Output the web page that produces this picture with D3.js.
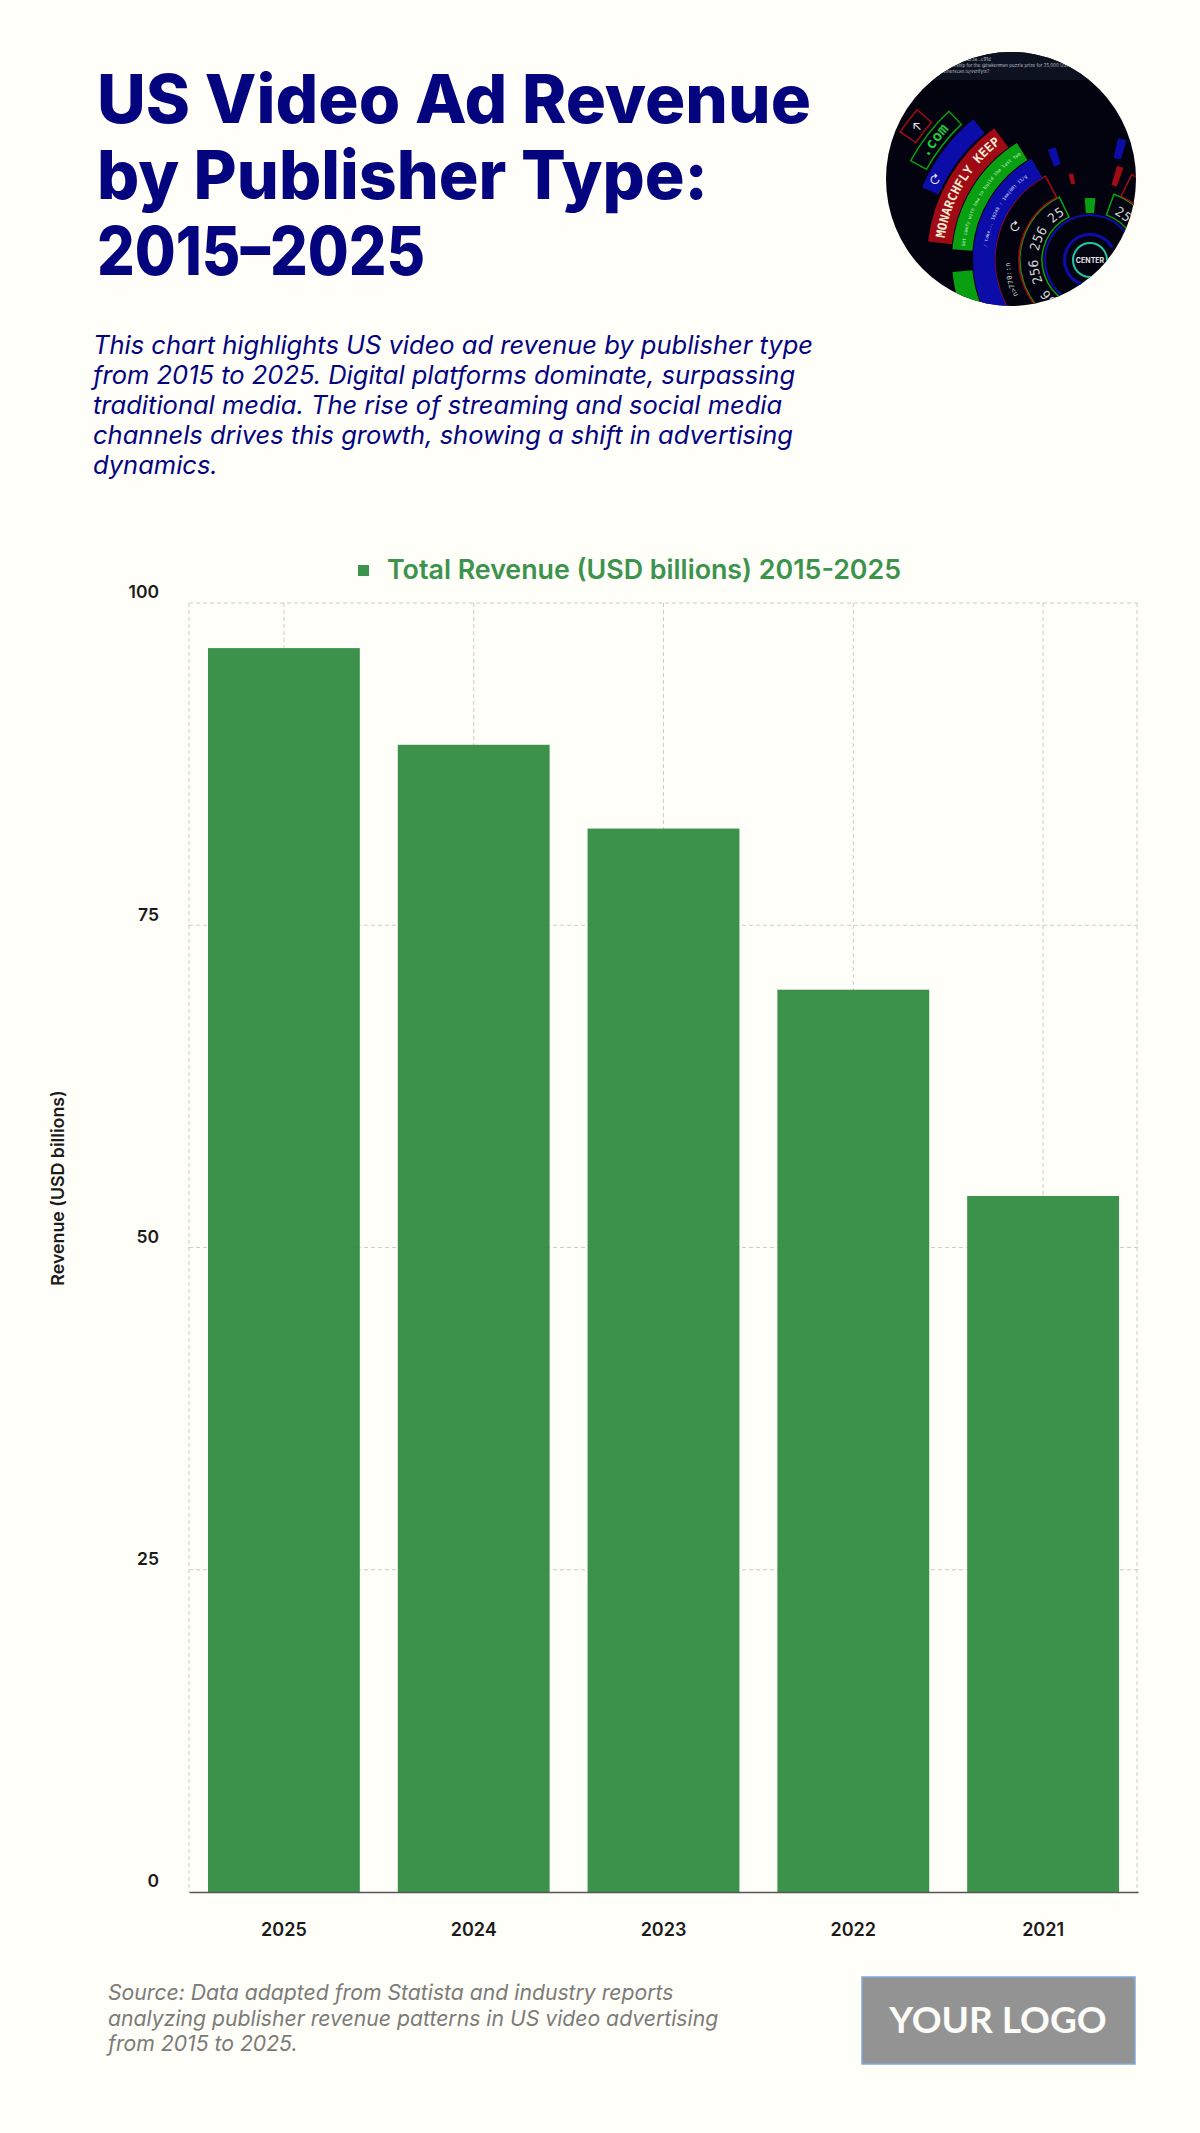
<!DOCTYPE html>
<html>
<head>
<meta charset="utf-8">
<script src="https://d3js.org/d3.v7.min.js"></script>
<style>
  html, body { margin: 0; padding: 0; background: #fffef9; }
  svg { display: block; }
  text { font-family: Inter, "Noto Sans", sans-serif; }
</style>
</head>
<body>
<svg id="chart" width="1200" height="2133"></svg>
<script>
// chart values
var years = ["2025", "2024", "2023", "2022", "2021"];
var revenue = [96.5, 89, 82.5, 70, 54];
var yTicks = [0, 25, 50, 75, 100];

var titleLines = ["US Video Ad Revenue", "by Publisher Type:", "2015–2025"];
var descLines = [
  "This chart highlights US video ad revenue by publisher type",
  "from 2015 to 2025. Digital platforms dominate, surpassing",
  "traditional media. The rise of streaming and social media",
  "channels drives this growth, showing a shift in advertising",
  "dynamics."
];
var sourceLines = [
  "Source: Data adapted from Statista and industry reports",
  "analyzing publisher revenue patterns in US video advertising",
  "from 2015 to 2025."
];
var legendLabel = "Total Revenue (USD billions) 2015-2025";
var yLabel = "Revenue (USD billions)";

var NAVY = "#04047f", GREEN = "#3c934b", BG = "#fffef9";

var svg = d3.select("#chart");
svg.append("rect").attr("width", 1200).attr("height", 2133).attr("fill", BG);

// header, the real title font is not installed so each line is fitted to its width
var titleWidths = [714, 611, 328];
svg.append("g").selectAll("text").data(titleLines).join("text")
  .attr("x", 97).attr("y", function (d, i) { return 123 + i * 76; })
  .attr("textLength", function (d, i) { return titleWidths[i]; })
  .attr("lengthAdjust", "spacingAndGlyphs")
  .attr("fill", NAVY)
  .style("font-weight", 800).style("font-size", "67px")
  .text(function (d) { return d; });

svg.append("g").selectAll("text").data(descLines).join("text")
  .attr("x", 93).attr("y", function (d, i) { return 354 + i * 30; })
  .attr("fill", NAVY)
  .style("font-style", "italic").style("font-size", "25.5px")
  .text(function (d) { return d; });

// plot
var margin = { left: 189, right: 62, top: 603, bottom: 241 };
var x = d3.scaleBand().domain(years).range([margin.left, 1200 - margin.right]).paddingInner(0.2).paddingOuter(0.1);
var y = d3.scaleLinear().domain([0, 100]).range([2133 - margin.bottom, margin.top]);

// grid goes under the bars, the bars are just a bit see-through
var grid = svg.append("g").attr("fill", "none").attr("stroke", "#b9b9b0")
  .attr("stroke-width", 1).attr("stroke-dasharray", "4 3").attr("opacity", 0.7);
grid.selectAll("line.h").data(yTicks.slice(1)).join("line").attr("class", "h")
  .attr("x1", margin.left).attr("x2", 1200 - margin.right)
  .attr("y1", function (d) { return y(d); }).attr("y2", function (d) { return y(d); });
var gridX = [margin.left].concat(years.map(function (d) { return x(d) + x.bandwidth() / 2; }), [1200 - margin.right - 1]);
grid.selectAll("line.v").data(gridX).join("line").attr("class", "v")
  .attr("x1", function (d) { return d; }).attr("x2", function (d) { return d; })
  .attr("y1", margin.top).attr("y2", y(0));

svg.append("g").selectAll("rect").data(revenue).join("rect")
  .attr("x", function (d, i) { return x(years[i]); })
  .attr("y", function (d) { return y(d); })
  .attr("width", x.bandwidth())
  .attr("height", function (d) { return y(0) - y(d); })
  .attr("fill", "#348e43").attr("fill-opacity", 0.96);

// axes
var yAxis = svg.append("g").attr("transform", "translate(" + margin.left + ",0)")
  .call(d3.axisLeft(y).tickValues(yTicks).tickSize(0).tickPadding(30));
yAxis.select(".domain").remove();
yAxis.selectAll("text").attr("dy", "-0.3em").attr("fill", "#1b1b1b")
  .style("font-size", "17.5px").style("font-weight", 600);

var xAxis = svg.append("g").attr("transform", "translate(0," + y(0) + ")")
  .call(d3.axisBottom(x).tickSize(0).tickPadding(31));
xAxis.select(".domain").attr("stroke", "#555").attr("stroke-width", 1.5);
xAxis.selectAll("text").attr("fill", "#1b1b1b")
  .style("font-size", "18px").style("font-weight", 600);

svg.append("text")
  .attr("transform", "translate(64,1188) rotate(-90)")
  .attr("text-anchor", "middle").attr("fill", "#1b1b1b")
  .style("font-size", "17.8px").style("font-weight", 600)
  .text(yLabel);

// legend
svg.append("rect").attr("x", 358).attr("y", 565).attr("width", 11).attr("height", 11).attr("fill", GREEN);
svg.append("text").attr("x", 387).attr("y", 579).attr("fill", GREEN)
  .style("font-size", "26.8px").style("font-weight", 600).text(legendLabel);

// footer
svg.append("g").selectAll("text").data(sourceLines).join("text")
  .attr("x", 108).attr("y", function (d, i) { return 2000 + i * 25.5; })
  .attr("fill", "#7b7b78")
  .style("font-style", "italic").style("font-size", "21.2px")
  .text(function (d) { return d; });

svg.append("rect").attr("x", 862).attr("y", 1977).attr("width", 273).attr("height", 87)
  .attr("fill", "#939393").attr("stroke", "#7fabd8").attr("stroke-width", 1.5);
svg.append("text").attr("x", 998).attr("y", 2033).attr("text-anchor", "middle").attr("fill", "#fbfbf8")
  .style("font-family", "Lato, sans-serif").style("font-weight", 700).style("font-size", "37px")
  .text("YOUR LOGO");

// round thumbnail, top right
var deg = Math.PI / 180;
var RED = "#a00a14", BLUE = "#0c0ca8", LIME = "#08a010", MONO = "'DejaVu Sans Mono', monospace";
var defs = svg.append("defs");
defs.append("clipPath").attr("id", "thumbClip").append("ellipse")
  .attr("cx", 1011).attr("cy", 179).attr("rx", 125).attr("ry", 127);
var thumb = svg.append("g").attr("clip-path", "url(#thumbClip)");
thumb.append("rect").attr("x", 880).attr("y", 50).attr("width", 262).attr("height", 258).attr("fill", "#03030f");
thumb.append("rect").attr("x", 880).attr("y", 50).attr("width", 262).attr("height", 30).attr("fill", "#0d1220");
thumb.selectAll("text.top").data(["contract 0x8f3a…c91d", "ownership for the @hakenman puzzle prize for 25,000 USDT", "etherscan.io/verifytx?"]).join("text")
  .attr("class", "top").attr("x", 943).attr("y", function (d, i) { return 61 + i * 6; })
  .attr("fill", "#b8bcc4").style("font-size", "4.5px").text(function (d) { return d; });

var center = thumb.append("g").attr("transform", "translate(1090,260)");
var arc = d3.arc();
function band(r0, r1, a0, a1, fill, stroke) {
  return center.append("path")
    .attr("d", arc({ innerRadius: r0, outerRadius: r1, startAngle: a0 * deg, endAngle: a1 * deg }))
    .attr("fill", fill || "none").attr("stroke", stroke || "none").attr("stroke-width", 1.5);
}
band(48, 70, -190, -26, null, LIME);
band(48, 70, 20, 60, null, LIME);
band(71, 95, -190, -28, null, RED);
band(71, 95, 26, 60, null, RED);
band(95, 117, -175, -30, BLUE);
band(118, 138, -85.5, -32, LIME);
band(118, 138, -112, -95, LIME);
band(139, 163, -83.5, -36, RED);
band(165, 183, -66.6, -39.7, BLUE);
band(187, 205, -61, -43.5, null, LIME);
band(210, 229, -56, -49, null, RED);
band(47, 62, -5, 5, LIME);
band(78, 88, -14, -11, RED);
band(78, 98, 16, 20, RED);
band(100, 118, -21, -17, BLUE);
band(105, 125, 13, 17, BLUE);
band(44, 46, -140, 70, BLUE);
band(24, 27, -160, 60, BLUE);
center.append("circle").attr("r", 17).attr("fill", "#03030f").attr("stroke", "#1fc9a0").attr("stroke-width", 2);
center.append("text").attr("text-anchor", "middle").attr("y", 3).attr("fill", "#e6e6e6")
  .style("font-size", "7px").style("font-weight", 700).text("CENTER");

// curved labels on the bands
function curved(id, r, a0, a1, label, size, fill, weight, family) {
  var p0 = d3.pointRadial(a0 * deg, r), p1 = d3.pointRadial(a1 * deg, r);
  defs.append("path").attr("id", id)
    .attr("d", "M" + p0[0] + "," + p0[1] + "A" + r + "," + r + " 0 0 1 " + p1[0] + "," + p1[1]);
  center.append("text").attr("fill", fill).attr("text-anchor", "middle")
    .style("font-family", family || MONO).style("font-size", size + "px").style("font-weight", weight || 400)
    .append("textPath").attr("href", "#" + id).attr("startOffset", "50%").text(label);
}
curved("arcKeep", 147, -83, -36, "MONARCHFLY KEEP", 12.5, "#f4e8d0", 700);
curved("arcGreen", 126, -85, -32, "Get comfy with how to build  the last two", 4.6, "#d8f0d8");
curved("arcBlue", 104, -88, -32, "/ take... 10248 : 1mm(00) 11/g", 4.6, "#dcdcf5");
curved("arcNums", 52, -185, -28, "256 256 256 256 25", 13, "#cfd2cf");
curved("arcNumsRight", 52, 22, 50, "25", 13, "#cfd2cf");
curved("arcRing", 80, -118, -90, "n>770::n", 7, "#cfd2cf");
curved("arcCom", 192, -62, -43, ".com", 15, "#22c83c", 700);
center.append("text").attr("x", -75).attr("y", -29).attr("text-anchor", "middle").attr("fill", "#e8e8e8").style("font-size", "12px").text("↻");
center.append("text").attr("x", -155).attr("y", -76).attr("text-anchor", "middle").attr("fill", "#e8e8e8").style("font-size", "12px").text("↻");
center.append("text").attr("x", -173).attr("y", -129).attr("text-anchor", "middle").attr("fill", "#e8e8e8").style("font-size", "13px").text("↖");
</script>
</body>
</html>
